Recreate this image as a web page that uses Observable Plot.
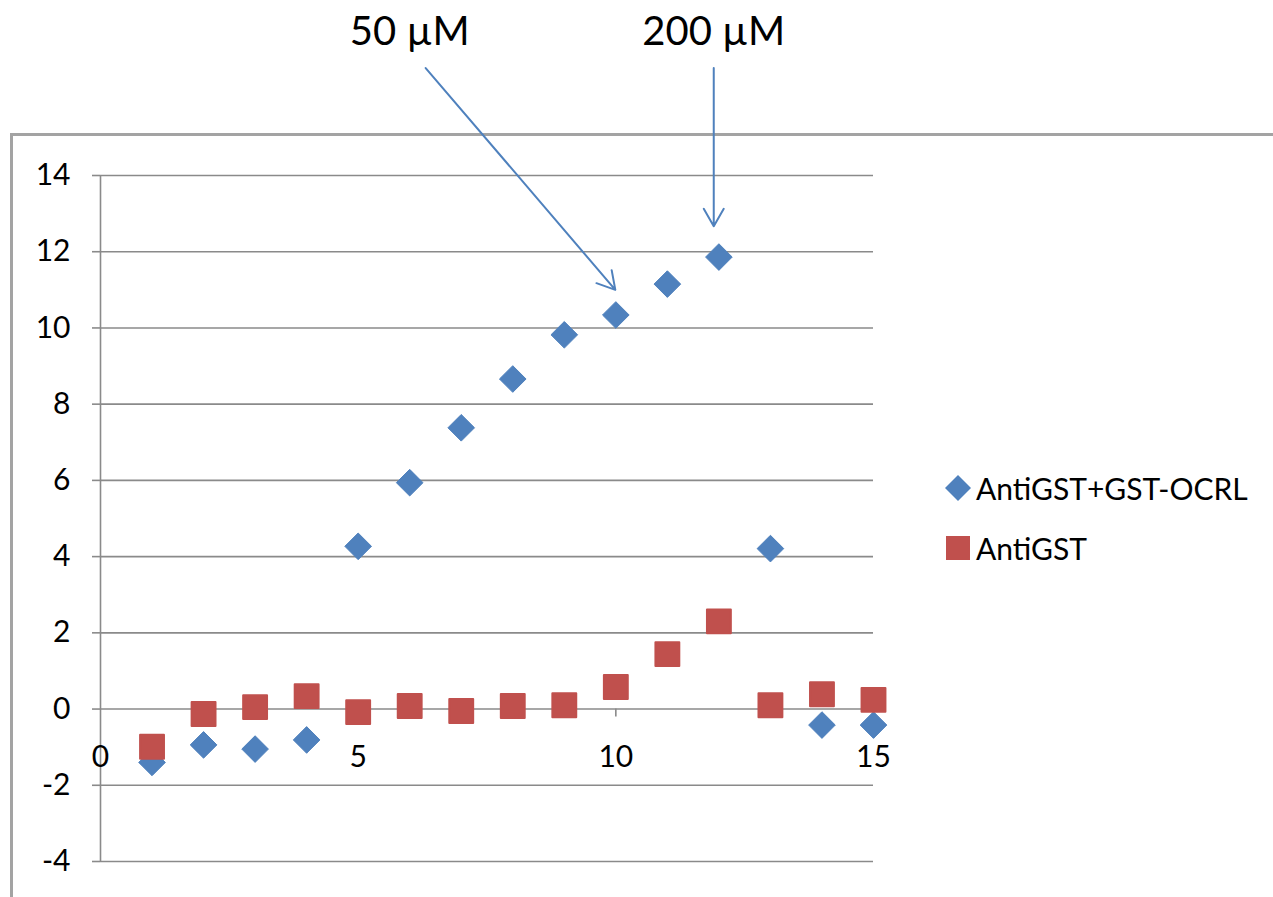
<!DOCTYPE html>
<html>
<head>
<meta charset="utf-8">
<script src="https://cdn.jsdelivr.net/npm/d3@7"></script>
<script src="https://cdn.jsdelivr.net/npm/@observablehq/plot@0.6"></script>
<style>
  html, body { margin: 0; padding: 0; background: #fff; overflow: hidden; }
  #wrap { position: relative; width: 1273px; height: 897px; overflow: hidden; font-family: Lato, "Open Sans", sans-serif; }
  #frame { position: absolute; left: 10px; top: 133px; width: 1400px; height: 900px;
           border-left: 3px solid #a3a3a3; border-top: 3px solid #a3a3a3; }
  #chart { position: absolute; left: 0; top: 0; }
  #chart svg { background: transparent !important; }
  #legend { position: absolute; left: 944px; top: 468px; font-size: 30px; color: #000; }
  #legend .item { display: flex; align-items: center; height: 40px; margin-bottom: 20px; }
  #legend svg { margin-right: 4px; }
</style>
</head>
<body>
<div id="wrap">
  <div id="frame"></div>
  <div id="chart"></div>
  <div id="legend"></div>
</div>
<script>
// ---- data ----
const xValues = [1, 2, 3, 4, 5, 6, 7, 8, 9, 10, 11, 12, 13, 14, 15];
const antiGstGstOcrl = [-1.4, -0.94, -1.05, -0.81, 4.27, 5.94, 7.38, 8.66, 9.82, 10.34, 11.15, 11.86, 4.21, -0.42, -0.42];
const antiGst = [-0.99, -0.13, 0.05, 0.34, -0.08, 0.08, -0.05, 0.08, 0.1, 0.58, 1.44, 2.3, 0.1, 0.39, 0.24];
const seriesNames = ["AntiGST+GST-OCRL", "AntiGST"];
const seriesColors = ["#4F81BD", "#C0504D"];
const yTicks = [-4, -2, 0, 2, 4, 6, 8, 10, 12, 14];
const xTicks = [0, 5, 10, 15];

// annotations (data coordinates)
const annLabels = ["50 µM", "200 µM"];
const annLabelX = [6.0, 11.9];
const annLabelY = [17.75, 17.75];
const arrowX1 = [6.31, 11.9];
const arrowY1 = [16.82, 16.82];
const arrowX2 = [9.99, 11.9];
const arrowY2 = [11.0, 12.67];

const blue = xValues.map((x, i) => ({x, y: antiGstGstOcrl[i]}));
const red = xValues.map((x, i) => ({x, y: antiGst[i]}));
const anns = annLabels.map((t, i) => ({t, x: annLabelX[i], y: annLabelY[i]}));
const arrows = arrowX1.map((x1, i) => ({x1, y1: arrowY1[i], x2: arrowX2[i], y2: arrowY2[i]}));

const grid = "#8a8a8a";

const chart = Plot.plot({
  width: 1273,
  height: 897,
  marginLeft: 100,
  marginRight: 400,
  marginTop: 175,
  marginBottom: 36,
  style: {fontFamily: "Lato, 'Open Sans', sans-serif", background: "transparent", color: "#000"},
  x: {domain: [0, 15], axis: null},
  y: {domain: [-4, 14], axis: null},
  marks: [
    Plot.ruleY(yTicks, {x1: 0, x2: 15, stroke: grid, strokeWidth: 1.6}),
    Plot.ruleX([0], {y1: -4, y2: 14, stroke: grid, strokeWidth: 1.6}),
    Plot.axisY({ticks: yTicks, tickSize: 8, tickPadding: 22, fontSize: 30, stroke: grid, strokeWidth: 1.6, label: null, tickFormat: d => d < 0 ? "-" + Math.abs(d) : String(d)}),
    Plot.ruleX(xTicks.filter(d => d > 0), {y1: 0, y2: 0, insetBottom: -8, stroke: grid, strokeWidth: 1.6}),
    Plot.text(xTicks, {x: d => d, y: 0, text: d => String(d), dy: 48, fontSize: 30, fill: "#000"}),
    Plot.dot(blue, {x: "x", y: "y", symbol: "diamond2", r: 12, fill: seriesColors[0], stroke: seriesColors[0], strokeWidth: 1, strokeLinejoin: "round"}),
    Plot.dot(red, {x: "x", y: "y", symbol: "square2", r: 15.2, fill: seriesColors[1], stroke: seriesColors[1], strokeWidth: 2, strokeLinejoin: "round"}),
    Plot.arrow(arrows, {x1: "x1", y1: "y1", x2: "x2", y2: "y2", stroke: "#4F81BD", strokeWidth: 2, headLength: 15, headAngle: 60}),
    Plot.text(anns, {x: "x", y: "y", text: "t", fontSize: 40, fill: "#000"})
  ]
});
document.getElementById("chart").appendChild(chart);

// legend
const legend = document.getElementById("legend");
const symbols = [
  '<svg width="28" height="28" viewBox="-14 -14 28 28"><path d="M0,-13L13,0L0,13L-13,0Z" fill="' + seriesColors[0] + '"/></svg>',
  '<svg width="28" height="28" viewBox="-14 -14 28 28"><rect x="-12" y="-12" width="24" height="24" fill="' + seriesColors[1] + '"/></svg>'
];
seriesNames.forEach((name, i) => {
  const item = document.createElement("div");
  item.className = "item";
  item.innerHTML = symbols[i] + "<span>" + name + "</span>";
  legend.appendChild(item);
});
</script>
</body>
</html>
